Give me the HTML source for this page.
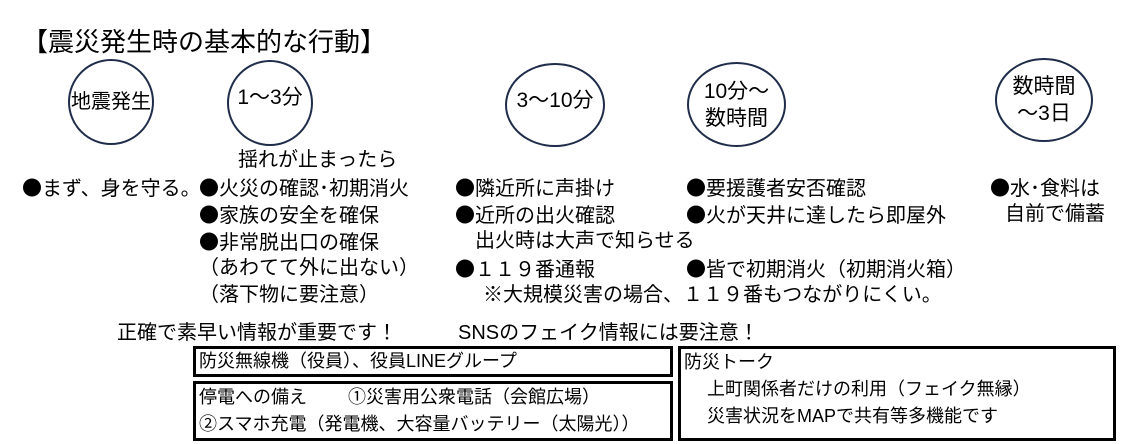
<!DOCTYPE html>
<html><head><meta charset="utf-8"><style>
body{margin:0;width:1142px;height:444px;background:#fff;position:relative;overflow:hidden;font-family:"Liberation Sans","Noto Sans CJK JP",sans-serif;color:#000}
.t{position:absolute;font-size:20px;line-height:22px;white-space:nowrap}
.k{font-family:"Noto Sans CJK JP",sans-serif}
.c{position:absolute;border:2.5px solid #1f2d4a;border-radius:50%;box-sizing:border-box;display:flex;align-items:center;justify-content:center;text-align:center;font-size:21px;line-height:27px;white-space:nowrap}
.b{position:absolute;border:3px solid #000;box-sizing:border-box;font-size:18px;line-height:26px;padding-left:3px;white-space:nowrap}
</style></head><body>
<div class="t" style="left:22px;top:28px;font-size:26px;line-height:29px">【震災発生時の基本的な行動】</div>
<div class="c" style="left:68px;top:59px;width:86px;height:86px;font-size:20px">地震発生</div>
<div class="c" style="left:227px;top:60px;width:86px;height:86px;padding-bottom:12px">1～3分</div>
<div class="c" style="left:505px;top:63px;width:100px;height:84px;padding-bottom:10px">3～10分</div>
<div class="c" style="left:687px;top:62px;width:99px;height:85px">10分～<br>数時間</div>
<div class="c" style="left:995px;top:58px;width:98px;height:84px">数時間<br>～3日</div>

<div class="t" style="left:238px;top:149px">揺れが止まったら</div>
<div class="t" style="left:22px;top:176px"><span class="k">●</span>まず、身を守る。</div>
<div class="t" style="left:199px;top:176px"><span class="k">●</span>火災の確認･初期消火</div>
<div class="t" style="left:199px;top:203px"><span class="k">●</span>家族の安全を確保</div>
<div class="t" style="left:199px;top:230px"><span class="k">●</span>非常脱出口の確保</div>
<div class="t" style="left:199px;top:257px">（あわてて外に出ない）</div>
<div class="t" style="left:199px;top:284px">（落下物に要注意）</div>

<div class="t" style="left:455px;top:176px"><span class="k">●</span>隣近所に声掛け</div>
<div class="t" style="left:455px;top:203px"><span class="k">●</span>近所の出火確認</div>
<div class="t" style="left:475px;top:230px">出火時は大声で知らせる</div>
<div class="t" style="left:455px;top:257px"><span class="k">●</span>１１９番通報</div>
<div class="t" style="left:483px;top:284px">※大規模災害の場合、１１９番もつながりにくい。</div>

<div class="t" style="left:686px;top:176px"><span class="k">●</span>要援護者安否確認</div>
<div class="t" style="left:686px;top:203px"><span class="k">●</span>火が天井に達したら即屋外</div>
<div class="t" style="left:686px;top:257px"><span class="k">●</span>皆で初期消火（初期消火箱）</div>

<div class="t" style="left:990px;top:176px"><span class="k">●</span>水･食料は</div>
<div class="t" style="left:1005px;top:203px">自前で備蓄</div>

<div class="t" style="left:117px;top:322px">正確で素早い情報が重要です！</div>
<div class="t" style="left:458px;top:322px">SNSのフェイク情報には要注意！</div>

<div class="b" style="left:193px;top:346px;width:480px;height:31px;line-height:24px">防災無線機（役員）、役員LINEグループ</div>
<div class="b" style="left:193px;top:381px;width:480px;height:60px;line-height:27px">停電への備え　　 ①災害用公衆電話（会館広場）<br>②スマホ充電（発電機、大容量バッテリー（太陽光））</div>
<div class="b" style="left:678px;top:346px;width:438px;height:95px;line-height:27px">防災トーク<br>　 上町関係者だけの利用（フェイク無縁）<br>　 災害状況をMAPで共有等多機能です</div>
</body></html>
